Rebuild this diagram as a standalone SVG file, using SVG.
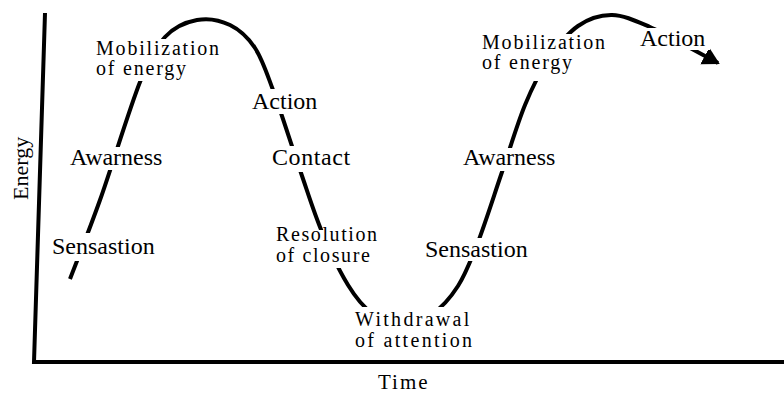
<svg xmlns="http://www.w3.org/2000/svg" width="784" height="396" viewBox="0 0 784 396">
  <style>
    .axis { fill: none; stroke: #000; stroke-width: 4; stroke-linejoin: miter; }
    .curve { fill: none; stroke: #000; stroke-width: 4; stroke-linecap: butt; }
    .bg { fill: #fff; stroke: none; }
    .big { font-size: 24px; }
    .small { font-size: 20px; letter-spacing: 1.8px; }
    .mid { font-size: 20px; letter-spacing: 1.6px; }
    .wide { font-size: 20px; letter-spacing: 2.3px; }
  </style>
  <defs>
    <marker id="arrowhead" markerUnits="userSpaceOnUse" markerWidth="18" markerHeight="20" refX="15" refY="9.5" orient="auto">
      <path d="M0,0 L17,9.5 L0,19 z" fill="#000"/>
    </marker>
  </defs>
  <rect width="784" height="396" fill="#fff"/>

  <g font-family="'Liberation Serif', 'Times New Roman', serif" fill="#000">
  <!-- axes -->
  <g id="axes">
    <path class="axis" d="M45,13 L34,362 L784,362"/>
    <text font-size="22" transform="translate(28,200) rotate(-90)">Energy</text>
    <text font-size="21" x="378" y="389" letter-spacing="2">Time</text>
  </g>

  <!-- energy cycle curve -->
  <g id="connectors">
    <path class="curve" marker-end="url(#arrowhead)" d="M70,279
      C75,265.8 88.3,232.8 100,200
      C111.7,167.2 129.2,109.2 140,82
      C150.8,54.8 155.5,47.3 165,37
      C174.5,26.7 186.2,22 197,20
      C207.8,18 220.3,20.3 230,25
      C239.7,29.7 247.8,37.2 255,48
      C262.2,58.8 265.5,69.7 273,90
      C280.5,110.3 291.8,146.3 300,170
      C308.2,193.7 314,212.8 322,232
      C330,251.2 339.7,271.5 348,285
      C356.3,298.5 363,306.8 372,313
      C381,319.2 392,321.8 402,322
      C412,322.2 422.7,320 432,314
      C441.3,308 450.3,298 458,286
      C465.7,274 470.7,261 478,242
      C485.3,223 494.2,194.8 502,172
      C509.8,149.2 517.3,123.7 525,105
      C532.7,86.3 539.2,73.2 548,60
      C556.8,46.8 567.3,33.5 578,26
      C588.7,18.5 600,14.8 612,15
      C624,15.2 636.7,21.3 650,27
      C663.3,32.7 680.7,43 692,49
      C703.3,55 713.7,60.7 718,63"/>
  </g>

  <!-- stage labels -->
  <g id="mobilization-1">
    <rect class="bg" x="94" y="39" width="130" height="42"/>
    <text class="small" x="96" y="55">Mobilization</text>
    <text class="small" x="96" y="75">of energy</text>
  </g>
  <g id="awareness-1">
    <rect class="bg" x="68" y="147" width="97" height="23"/>
    <text class="big" x="70" y="165">Awarness</text>
  </g>
  <g id="sensation-1">
    <rect class="bg" x="50" y="233" width="108" height="28"/>
    <text class="big" x="52" y="254">Sensastion</text>
  </g>
  <g id="action-1">
    <rect class="bg" x="250" y="89" width="72" height="25"/>
    <text class="big" x="252" y="109">Action</text>
  </g>
  <g id="contact">
    <rect class="bg" x="270" y="146" width="84" height="26"/>
    <text class="big" x="272" y="165" letter-spacing="0.6">Contact</text>
  </g>
  <g id="resolution">
    <rect class="bg" x="274" y="230" width="109" height="38"/>
    <text class="mid" x="276" y="241">Resolution</text>
    <text class="mid" x="276" y="262">of closure</text>
  </g>
  <g id="withdrawal">
    <rect class="bg" x="353" y="307" width="124" height="44"/>
    <text class="wide" x="355" y="326">Withdrawal</text>
    <text class="wide" x="355" y="347">of attention</text>
  </g>
  <g id="sensation-2">
    <rect class="bg" x="423" y="238" width="108" height="23"/>
    <text class="big" x="425" y="257">Sensastion</text>
  </g>
  <g id="awareness-2">
    <rect class="bg" x="461" y="148" width="97" height="23"/>
    <text class="big" x="463" y="165">Awarness</text>
  </g>
  <g id="mobilization-2">
    <rect class="bg" x="480" y="34" width="130" height="47"/>
    <text class="small" x="482" y="49">Mobilization</text>
    <text class="small" x="482" y="69">of energy</text>
  </g>
  <g id="action-2">
    <rect class="bg" x="638" y="28" width="72" height="22"/>
    <text class="big" x="640" y="46">Action</text>
  </g>
  </g>
</svg>
